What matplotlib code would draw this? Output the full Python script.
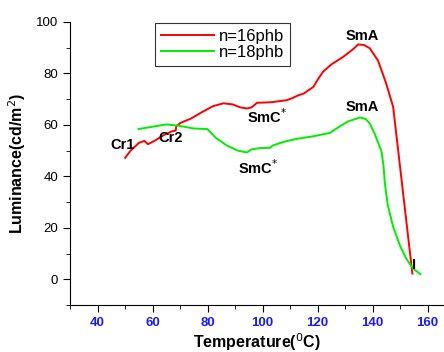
import matplotlib
matplotlib.use("Agg")
import matplotlib.pyplot as plt
from matplotlib.ticker import MultipleLocator

plt.rcParams['font.family'] = ['Liberation Sans', 'DejaVu Sans']

# n=16phb (red)
t16 = [50, 52, 55, 57, 58.3, 61, 64, 67, 68.4, 68.6, 70.2, 74, 78, 82, 85.8, 89, 92, 94.3, 96, 98, 103, 108.8, 111, 113, 115,
       118.5, 120, 122, 125, 129.4, 133, 134.8, 137, 139, 142, 145, 147.5, 154.5]
l16 = [47.2, 50, 53, 53.8, 52.5, 54, 56, 57.5, 57.8, 59.5, 60.8, 62.5, 65, 67.3, 68.4, 68, 66.8, 66.4, 66.8, 68.6, 68.8, 69.6, 70.5, 71.5, 72.2,
       74.8, 77.5, 80.7, 83.5, 86.5, 89.5, 91.3, 91, 89.8, 85, 76, 67, 2.2]

# n=18phb (green)
t18 = [54.9, 60, 65, 70, 75, 79.9, 83, 87, 91, 94.3, 96, 99.2, 102.8, 103.5, 107.6, 112, 118, 124.5, 128.2, 131, 135.4, 137.5, 139,
       141, 143.3, 144, 144.5, 145.5, 147.5, 150, 152.3, 154.7, 157.4]
l18 = [58.4, 59.3, 60.2, 59.6, 58.6, 58.4, 55, 52, 50, 49.3, 50.5, 51, 51.1, 51.9, 53.4, 54.5, 55.5, 56.9, 59.5, 61.3, 62.9, 62.3, 60.6,
       56, 49.5, 44, 37.2, 29, 20.4, 13, 8, 4.2, 2]

labels = ["Cr1", "Cr2", "SmC$^{*}$", "SmC$^{*}$", "SmA", "SmA", "I"]
label_t = [49.1, 66.5, 101.5, 98.5, 136.1, 136.1, 155.0]
label_l = [52.1, 54.9, 63.3, 43.2, 94.6, 66.9, 5.6]

fig = plt.figure(figsize=(4.44, 3.52), dpi=100)
ax = fig.add_axes([0.158, 0.1335, 0.842, 0.804])

ax.plot(t16, l16, color='#ff0000', lw=1.4, label='n=16phb')
ax.plot(t18, l18, color='#00ee00', lw=1.4, label='n=18phb')

for s, x, y in zip(labels, label_t, label_l):
    ax.text(x, y, s, ha='center', va='center', fontsize=10.5, fontweight='bold')

ax.set_xlim(30, 166)
ax.set_ylim(-10, 100)
ax.xaxis.set_minor_locator(MultipleLocator(10))
ax.yaxis.set_minor_locator(MultipleLocator(10))
ax.set_xticks(range(40, 161, 20))
ax.set_yticks(range(0, 101, 20))
ax.tick_params(which='both', direction='out')
ax.tick_params(which='major', length=5)
ax.tick_params(which='minor', length=3)
ax.tick_params(axis='y', labelsize=9.5)
ax.tick_params(axis='x', labelsize=9.5, labelcolor='#1a1aff')
for lab in ax.get_xticklabels():
    lab.set_fontweight('bold')
ax.spines['top'].set_visible(False)
ax.spines['right'].set_visible(False)

ax.set_xlabel('Temperature($^{0}$C)', fontsize=11.5, fontweight='bold', labelpad=2)
ax.set_ylabel('Luminance(cd/m$^{2}$)', fontsize=11.5, fontweight='bold', labelpad=6)

leg = ax.legend(loc='upper left', bbox_to_anchor=(0.227, 0.995), frameon=True, fancybox=False,
                edgecolor='black', fontsize=12, handlelength=3.2, borderpad=0.35,
                labelspacing=0.05, handletextpad=0.3, borderaxespad=0)
leg.get_frame().set_linewidth(0.8)

fig.savefig('out.png', dpi=100)
